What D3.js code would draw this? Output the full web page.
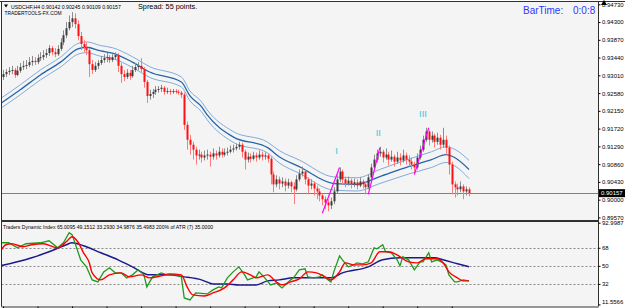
<!DOCTYPE html>
<html><head><meta charset="utf-8">
<script src="https://cdn.jsdelivr.net/npm/d3@7"></script>
<style>
body{margin:0;background:#fff}
svg{display:block}
text{font-family:"Liberation Sans",Arial,sans-serif}
</style>
</head><body>
<svg id="c" width="625" height="308"></svg>
<script>
// ---------- DATA ----------
const symbolTitle = "USDCHF,H4  0.90142 0.90245 0.90109 0.90157";
const brandText = "TRADERTOOLS-FX.COM";
const spreadText = "Spread: 55 points.";
const barTimeLabel = "BarTime:";
const barTimeValue = "0:0:8";
const tdiTitle = "Traders Dynamic Index 65.0095 49.1512 33.2930 34.9876 35.4983  200% of ATR (7) 35.0000";

const open = [0.9297,0.9304,0.9309,0.9312,0.9314,0.9302,0.9312,0.9321,0.9324,0.9326,
0.9333,0.9336,0.9333,0.9343,0.9345,0.9350,0.9355,0.9367,0.9357,0.9352,
0.9365,0.9381,0.9398,0.9415,0.9430,0.9439,0.9425,0.9396,0.9377,0.9369,
0.9362,0.9328,0.9314,0.9324,0.9331,0.9338,0.9343,0.9345,0.9338,0.9345,
0.9350,0.9324,0.9304,0.9297,0.9307,0.9299,0.9314,0.9321,0.9324,0.9316,
0.9285,0.9251,0.9256,0.9261,0.9266,0.9268,0.9271,0.9261,0.9263,0.9261,
0.9263,0.9261,0.9259,0.9254,0.9181,0.9145,0.9133,0.9121,0.9107,0.9109,
0.9102,0.9107,0.9109,0.9104,0.9112,0.9107,0.9116,0.9109,0.9114,0.9116,
0.9121,0.9124,0.9128,0.9133,0.9116,0.9097,0.9104,0.9099,0.9107,0.9102,
0.9109,0.9104,0.9107,0.9099,0.9061,0.9037,0.9049,0.9039,0.9044,0.9034,
0.9042,0.9032,0.9025,0.9049,0.9063,0.9068,0.9049,0.9034,0.9039,0.9027,
0.9020,0.9010,0.9001,0.8993,0.8986,0.8996,0.9020,0.9049,0.9068,0.9049,
0.9039,0.9046,0.9037,0.9042,0.9034,0.9044,0.9037,0.9030,0.9054,0.9078,
0.9097,0.9112,0.9116,0.9102,0.9109,0.9097,0.9104,0.9092,0.9102,0.9095,
0.9107,0.9097,0.9092,0.9085,0.9078,0.9102,0.9121,0.9145,0.9165,0.9145,
0.9155,0.9140,0.9150,0.9133,0.9145,0.9126,0.9085,0.9037,0.9030,0.9025,
0.9032,0.9020,0.9025];

const high = [0.9314,0.9316,0.9321,0.9324,0.9319,0.9324,0.9331,0.9336,0.9338,0.9345,
0.9348,0.9345,0.9352,0.9357,0.9362,0.9365,0.9374,0.9372,0.9367,0.9374,
0.9391,0.9410,0.9430,0.9446,0.9454,0.9451,0.9434,0.9406,0.9386,0.9381,
0.9367,0.9338,0.9333,0.9338,0.9348,0.9352,0.9355,0.9350,0.9352,0.9357,
0.9355,0.9331,0.9314,0.9316,0.9314,0.9324,0.9331,0.9333,0.9343,0.9321,
0.9290,0.9266,0.9268,0.9275,0.9275,0.9278,0.9275,0.9271,0.9268,0.9268,
0.9268,0.9266,0.9263,0.9259,0.9189,0.9157,0.9140,0.9128,0.9121,0.9116,
0.9119,0.9121,0.9116,0.9124,0.9119,0.9128,0.9124,0.9124,0.9126,0.9131,
0.9133,0.9136,0.9140,0.9138,0.9121,0.9114,0.9112,0.9116,0.9114,0.9119,
0.9116,0.9114,0.9112,0.9104,0.9068,0.9059,0.9056,0.9054,0.9051,0.9051,
0.9046,0.9042,0.9059,0.9073,0.9080,0.9073,0.9054,0.9049,0.9044,0.9034,
0.9027,0.9015,0.9008,0.9001,0.9005,0.9030,0.9059,0.9078,0.9073,0.9056,
0.9056,0.9051,0.9051,0.9049,0.9054,0.9049,0.9042,0.9061,0.9087,0.9109,
0.9121,0.9128,0.9121,0.9124,0.9116,0.9119,0.9109,0.9116,0.9112,0.9121,
0.9114,0.9107,0.9102,0.9092,0.9112,0.9131,0.9155,0.9174,0.9169,0.9165,
0.9160,0.9162,0.9157,0.9174,0.9155,0.9131,0.9092,0.9044,0.9039,0.9044,
0.9037,0.9032,0.9030];

const low = [0.9290,0.9297,0.9302,0.9304,0.9295,0.9299,0.9307,0.9314,0.9316,0.9321,
0.9324,0.9326,0.9328,0.9336,0.9338,0.9343,0.9348,0.9350,0.9345,0.9348,
0.9360,0.9374,0.9391,0.9410,0.9418,0.9415,0.9386,0.9362,0.9357,0.9350,
0.9297,0.9304,0.9309,0.9316,0.9326,0.9331,0.9333,0.9331,0.9333,0.9338,
0.9309,0.9283,0.9287,0.9292,0.9290,0.9295,0.9309,0.9314,0.9309,0.9271,
0.9234,0.9242,0.9246,0.9254,0.9259,0.9261,0.9254,0.9256,0.9254,0.9256,
0.9256,0.9254,0.9246,0.9169,0.9121,0.9109,0.9097,0.9085,0.9097,0.9090,
0.9095,0.9097,0.9080,0.9097,0.9097,0.9102,0.9102,0.9104,0.9107,0.9112,
0.9114,0.9119,0.9121,0.9102,0.9073,0.9090,0.9090,0.9095,0.9092,0.9097,
0.9095,0.9097,0.9090,0.9037,0.9018,0.9030,0.9025,0.9030,0.9020,0.9027,
0.9018,0.8989,0.9020,0.9044,0.9056,0.9037,0.9013,0.9025,0.9010,0.9001,
0.8996,0.8986,0.8977,0.8972,0.8977,0.8989,0.9015,0.9042,0.9037,0.9030,
0.9034,0.9027,0.9030,0.9025,0.9030,0.9027,0.9013,0.9025,0.9049,0.9073,
0.9090,0.9104,0.9090,0.9097,0.9083,0.9092,0.9080,0.9087,0.9083,0.9090,
0.9085,0.9080,0.9073,0.9061,0.9073,0.9097,0.9116,0.9140,0.9131,0.9138,
0.9126,0.9133,0.9121,0.9126,0.9109,0.9061,0.9013,0.9005,0.9010,0.9018,
0.9001,0.9010,0.9008];

const close = [0.9304,0.9309,0.9312,0.9314,0.9302,0.9312,0.9321,0.9324,0.9326,0.9333,
0.9336,0.9333,0.9343,0.9345,0.9350,0.9355,0.9367,0.9357,0.9352,0.9365,
0.9381,0.9398,0.9415,0.9430,0.9439,0.9425,0.9396,0.9377,0.9369,0.9362,
0.9328,0.9314,0.9324,0.9331,0.9338,0.9343,0.9345,0.9338,0.9345,0.9350,
0.9324,0.9304,0.9297,0.9307,0.9299,0.9314,0.9321,0.9324,0.9316,0.9285,
0.9251,0.9256,0.9261,0.9266,0.9268,0.9271,0.9261,0.9263,0.9261,0.9263,
0.9261,0.9259,0.9254,0.9181,0.9145,0.9133,0.9121,0.9107,0.9109,0.9102,
0.9107,0.9109,0.9104,0.9112,0.9107,0.9116,0.9109,0.9114,0.9116,0.9121,
0.9124,0.9128,0.9133,0.9116,0.9097,0.9104,0.9099,0.9107,0.9102,0.9109,
0.9104,0.9107,0.9099,0.9061,0.9037,0.9049,0.9039,0.9044,0.9034,0.9042,
0.9032,0.9025,0.9049,0.9063,0.9068,0.9049,0.9034,0.9039,0.9027,0.9020,
0.9010,0.9001,0.8993,0.8986,0.8996,0.9020,0.9049,0.9068,0.9049,0.9039,
0.9046,0.9037,0.9042,0.9034,0.9044,0.9037,0.9030,0.9054,0.9078,0.9097,
0.9112,0.9116,0.9102,0.9109,0.9097,0.9104,0.9092,0.9102,0.9095,0.9107,
0.9097,0.9092,0.9085,0.9078,0.9102,0.9121,0.9145,0.9165,0.9145,0.9155,
0.9140,0.9150,0.9133,0.9145,0.9126,0.9085,0.9037,0.9030,0.9025,0.9032,
0.9020,0.9025,0.90157];

// moving-average band (sampled at bar indices)
const bandBars  = [-1,6,13,20,26,29,34,38,45,51,62,65,69,71,80,92,96,103,115,123,131,141,149,154,157,162];
const bandMid   = [0.9232,0.9266,0.9302,0.9333,0.9365,0.9369,0.9360,0.9355,0.9333,0.9309,0.9285,0.9251,0.9225,0.9205,0.9152,0.9126,0.9104,0.9080,0.9039,0.9037,0.9056,0.9080,0.9097,0.9109,0.9102,0.9073];
const bandUpper = [0.9244,0.9278,0.9314,0.9345,0.9378,0.9382,0.9373,0.9368,0.9346,0.9322,0.9297,0.9263,0.9237,0.9217,0.9165,0.9139,0.9119,0.9096,0.9055,0.9053,0.9073,0.9098,0.9116,0.9128,0.9122,0.9095];
const bandLower = [0.9220,0.9254,0.9290,0.9321,0.9352,0.9356,0.9347,0.9342,0.9320,0.9296,0.9273,0.9239,0.9213,0.9193,0.9139,0.9113,0.9089,0.9064,0.9023,0.9021,0.9039,0.9062,0.9078,0.9090,0.9082,0.9051];

// wave segments and labels
const waveStartBar = [111,127,143];
const waveStartPrice = [0.8967,0.9013,0.9061];
const waveEndBar = [117,131,148];
const waveEndPrice = [0.9078,0.9126,0.9174];
const waveLabels = ["I","II","III"];
const waveLabelBar = [116,130.5,146];
const waveLabelPrice = [0.9116,0.9160,0.9205];

const priceTicks = [0.94730,0.94300,0.93870,0.93440,0.93010,0.92580,0.92150,0.91720,0.91290,0.90860,0.90430,0.90000,0.89570];
const priceMin = 0.89570, priceMax = 0.94730;
const lastPrice = 0.90157;

// Traders Dynamic Index: [bar, value]
const tdiGreen = [[-1,73],[2,73],[5,68],[8,72],[13,73],[16,75],[19,68],[21,73],[23,83],[24,81],[25,73],[27,56],[29,49],[31,36],[33,34],[35,44],[37,48],[39,43],[41,43],[43,38],[45,41],[47,46],[49,41],[50,29],[52,39],[55,43],[57,41],[60,41],[62,39],[63,18],[65,16],[67,23],[71,22],[73,26],[75,29],[76,28],[78,38],[80,44],[82,49],[84,41],[85,36],[88,39],[89,44],[91,38],[93,31],[95,33],[97,28],[100,36],[101,38],[103,46],[105,47],[106,39],[108,38],[110,39],[111,41],[112,38],[114,34],[115,44],[117,60],[118,56],[120,49],[122,51],[123,53],[125,52],[127,54],[129,68],[130,67],[132,71],[133,64],[135,63],[137,56],[138,50],[139,59],[141,56],[143,46],[145,54],[146,54],[148,63],[149,54],[151,56],[153,53],[154,51],[155,41],[157,34],[158,34],[160,36],[162,35]];
const tdiRed = [[-1,64],[1,71],[3,72],[7,69],[10,71],[14,72],[19,68],[22,74],[24,79],[26,74],[28,63],[30,53],[31,43],[34,36],[37,41],[41,43],[44,39],[48,41],[51,38],[55,40],[58,42],[62,41],[64,29],[66,21],[70,20],[73,23],[77,28],[80,36],[83,44],[86,41],[88,38],[92,41],[95,34],[97,31],[100,34],[103,37],[106,44],[109,43],[112,39],[114,36],[117,44],[119,53],[122,51],[125,51],[128,53],[131,64],[134,64],[137,61],[141,54],[144,53],[147,57],[151,57],[153,53],[155,44],[158,38],[160,35],[162,35]];
const tdiBlue = [[-1,50],[5,54],[10,58],[16,64],[22,71],[24,73],[28,70],[34,63],[40,56],[45,49],[51,41],[57,41],[63,39],[69,36],[73,32],[78,32],[82,31],[88,31],[92,35],[96,36],[101,38],[110,38],[114,38],[118,43],[127,49],[132,56],[138,58],[146,58],[150,58],[153,56],[158,52],[162,49]];
const tdiLevels = [68,50,32];
const tdiTicks = [92.9987,68,50,32,11.5566];
const tdiTickLabels = ["92.9987","68","50","32","11.5566"];
const timeTickBars = [0,12,24,36,48,60,72,84,96,108,120,132,144,156];

// ---------- LAYOUT ----------
const svg = d3.select("#c");
const L = 1.5, R = 598.5;
const mainTop = 1.5, mainBot = 220.5;
const subTop = 221.5, subBot = 306.5;
const N = close.length;

const x = d3.scaleLinear().domain([0, N - 1]).range([3, 469]);
const y = d3.scaleLinear().domain([priceMin, priceMax]).range([217.4, 4.3]);
const yT = d3.scaleLinear().domain([11.5566, 92.9987]).range([304.4, 222.7]);

svg.append("rect").attr("width",625).attr("height",308).attr("fill","#ffffff");
svg.append("rect").attr("x",L).attr("y",mainTop).attr("width",R-L).attr("height",mainBot-mainTop).attr("fill","#f4f4f4");
svg.append("rect").attr("x",L).attr("y",subTop).attr("width",R-L).attr("height",subBot-subTop).attr("fill","#f4f4f4");

const defs = svg.append("defs");
defs.append("clipPath").attr("id","cm").append("rect").attr("x",L).attr("y",mainTop).attr("width",R-L).attr("height",mainBot-mainTop);
defs.append("clipPath").attr("id","cs").append("rect").attr("x",L).attr("y",subTop).attr("width",R-L).attr("height",subBot-subTop);

const gm = svg.append("g").attr("clip-path","url(#cm)");
const gs = svg.append("g").attr("clip-path","url(#cs)");

// bid line
gm.append("line").attr("x1",L).attr("x2",R).attr("y1",Math.round(y(lastPrice))+0.5).attr("y2",Math.round(y(lastPrice))+0.5)
  .attr("stroke","#70868f").attr("stroke-width",1);

// MA bands
const bandLine = arr => d3.line().x((d,i)=>x(bandBars[i])).y(d=>y(d)).curve(d3.curveMonotoneX)(arr);
gm.append("path").attr("d",bandLine(bandUpper)).attr("fill","none").attr("stroke","#80aad6").attr("stroke-width",1);
gm.append("path").attr("d",bandLine(bandLower)).attr("fill","none").attr("stroke","#80aad6").attr("stroke-width",1);
gm.append("path").attr("d",bandLine(bandMid)).attr("fill","none").attr("stroke","#2466aa").attr("stroke-width",1.3);

// candles
const idx = d3.range(N);
const bull = i => close[i] >= open[i];
gm.selectAll("line.wick").data(idx).join("line").attr("class","wick")
  .attr("x1", i=>Math.round(x(i))+0.5).attr("x2", i=>Math.round(x(i))+0.5)
  .attr("y1", i=>y(high[i])).attr("y2", i=>y(low[i]))
  .attr("stroke", i=>bull(i)?"#8c8c8c":"#ff7a7a").attr("stroke-width",1);
gm.selectAll("rect.body").data(idx).join("rect").attr("class","body")
  .attr("x", i=>Math.round(x(i))-0.5).attr("width",2)
  .attr("y", i=>Math.min(y(open[i]),y(close[i])))
  .attr("height", i=>Math.max(1, Math.abs(y(open[i])-y(close[i]))))
  .attr("fill", i=>bull(i)?"#3c3c3c":"#ff1010");

// waves
gm.selectAll("line.wave").data(waveStartBar).join("line").attr("class","wave")
  .attr("x1",(d,i)=>x(waveStartBar[i])).attr("y1",(d,i)=>y(waveStartPrice[i]))
  .attr("x2",(d,i)=>x(waveEndBar[i])).attr("y2",(d,i)=>y(waveEndPrice[i]))
  .attr("stroke","#ff00ff").attr("stroke-width",1.2);
gm.selectAll("text.wl").data(waveLabels).join("text").attr("class","wl")
  .attr("x",(d,i)=>x(waveLabelBar[i])).attr("y",(d,i)=>y(waveLabelPrice[i]))
  .attr("text-anchor","middle").attr("dominant-baseline","middle")
  .attr("font-size",9.5).attr("fill","#3cc6d8").text(d=>d);

// header texts
svg.append("path").attr("d","M4,4.5 L8,4.5 L6,7.5 Z").attr("fill","#000");
svg.append("text").attr("x",11).attr("y",8.5).attr("font-size",5.2).attr("fill","#000").text(symbolTitle);
svg.append("text").attr("x",4.5).attr("y",15.2).attr("font-size",4.9).attr("fill","#000").text(brandText);
svg.append("text").attr("x",138).attr("y",8.6).attr("font-size",7.3).attr("fill","#000").text(spreadText);
svg.append("text").attr("x",523).attr("y",14.2).attr("font-size",10).attr("fill","#3535ff").text(barTimeLabel);
svg.append("text").attr("x",573).attr("y",14.2).attr("font-size",10).attr("fill","#3535ff").text(barTimeValue);

// TDI levels
gs.selectAll("line.lvl").data(tdiLevels).join("line").attr("class","lvl")
  .attr("x1",L).attr("x2",R).attr("y1",d=>Math.round(yT(d))+0.5).attr("y2",d=>Math.round(yT(d))+0.5)
  .attr("stroke","#8a8a8a").attr("stroke-width",1).attr("stroke-dasharray","2,2");

const tdiLine = d3.line().x(d=>x(d[0])).y(d=>yT(d[1]));
gs.append("path").attr("d",tdiLine.curve(d3.curveMonotoneX)(tdiBlue)).attr("fill","none").attr("stroke","#1a1a8c").attr("stroke-width",1.5);
gs.append("path").attr("d",tdiLine.curve(d3.curveLinear)(tdiGreen)).attr("fill","none").attr("stroke","#1f9a1f").attr("stroke-width",1.3);
gs.append("path").attr("d",tdiLine.curve(d3.curveMonotoneX)(tdiRed)).attr("fill","none").attr("stroke","#ff0000").attr("stroke-width",1.4);

svg.append("text").attr("x",3).attr("y",228.6).attr("font-size",5.1).attr("fill","#000").text(tdiTitle);

// borders
const border = "#303030";
svg.append("line").attr("x1",0).attr("x2",625).attr("y1",mainTop).attr("y2",mainTop).attr("stroke",border);
svg.append("line").attr("x1",L).attr("x2",L).attr("y1",mainTop).attr("y2",subBot).attr("stroke",border);
svg.append("line").attr("x1",R).attr("x2",R).attr("y1",mainTop).attr("y2",subBot).attr("stroke",border);
svg.append("line").attr("x1",L).attr("x2",R).attr("y1",mainBot).attr("y2",mainBot).attr("stroke",border);
svg.append("line").attr("x1",L).attr("x2",R).attr("y1",subTop).attr("y2",subTop).attr("stroke",border);

// price axis
const pAxis = svg.append("g").attr("transform",`translate(${R},0)`)
  .call(d3.axisRight(y).tickValues(priceTicks).tickSize(2).tickPadding(1.5).tickFormat(d3.format(".5f")));
pAxis.select(".domain").remove();
pAxis.selectAll("text").attr("font-size",6).attr("fill","#000").attr("font-family","Liberation Sans, Arial, sans-serif");
pAxis.selectAll("line").attr("stroke","#000");

// last price tag
const ly = y(lastPrice);
svg.append("rect").attr("x",599).attr("y",ly-4).attr("width",26).attr("height",8).attr("fill","#000");
svg.append("text").attr("x",601).attr("y",ly).attr("dominant-baseline","middle").attr("font-size",6).attr("fill","#fff").text(d3.format(".5f")(lastPrice));

// TDI axis
const tAxis = svg.append("g").attr("transform",`translate(${R},0)`)
  .call(d3.axisRight(yT).tickValues(tdiTicks).tickSize(2).tickPadding(1.5).tickFormat((d,i)=>tdiTickLabels[i]));
tAxis.select(".domain").remove();
tAxis.selectAll("text").attr("font-size",6).attr("fill","#000").attr("font-family","Liberation Sans, Arial, sans-serif");
tAxis.selectAll("line").attr("stroke","#000");
tAxis.selectAll(".tick").filter(d=>d===11.5566).select("text").attr("dy","-0.1em");

// time axis
const xAxis = svg.append("g").attr("transform",`translate(0,${subBot})`)
  .call(d3.axisBottom(x).tickValues(timeTickBars).tickSize(3).tickFormat(""));
xAxis.select(".domain").attr("stroke",border).attr("d",`M${L},0.5H${R}`);
xAxis.selectAll("line").attr("stroke","#000");

// corner marker
svg.append("path").attr("d","M601,5 L607,5 L604,0 Z").attr("fill","#000");
</script>
</body></html>
